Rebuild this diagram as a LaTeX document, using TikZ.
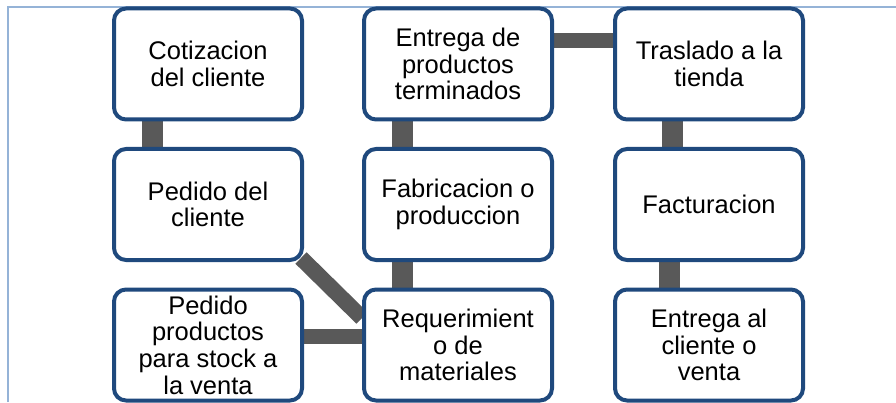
\documentclass[tikz,border=0pt]{standalone}
\usepackage{fontspec}
\setmainfont{Liberation Sans}
\usepackage{xcolor}
\usetikzlibrary{backgrounds}

\definecolor{boxblue}{RGB}{31,73,125}
\definecolor{framblue}{RGB}{149,179,215}
\definecolor{linkgray}{RGB}{89,89,89}

\tikzset{
  stagebox/.style={draw=boxblue, line width=4pt, fill=white, rounded corners=12pt,
    minimum width=188pt, minimum height=111pt, inner sep=0pt, align=center,
    font=\fontsize{25.5}{26.7}\selectfont},
  vlink/.style={draw=linkgray, line width=21pt},
  hlink/.style={draw=linkgray, line width=15pt}
}

\begin{document}
\begin{tikzpicture}[x=1pt, y=1pt]
  \useasboundingbox (0,0) rectangle (896,402);

  % Draw the boxes in three columns
  \node[stagebox] (cotiz)    at (208,338)   {Cotizacion\\del cliente};
  \node[stagebox] (pedido)   at (208,197.5) {Pedido del\\cliente};
  \node[stagebox] (stock)    at (208,57)    {Pedido\\productos\\para stock a\\la venta};
  \node[stagebox] (requer)   at (458,57)    {Requerimient\\o de\\materiales};
  \node[stagebox] (fabric)   at (458,197.5) {Fabricacion o\\produccion};
  \node[stagebox] (entrega)  at (458,338)   {Entrega de\\productos\\terminados};
  \node[stagebox] (traslado) at (709,338)   {Traslado a la\\tienda};
  \node[stagebox] (factura)  at (709,197.5) {Facturacion};
  \node[stagebox] (venta)    at (709,57)    {Entrega al\\cliente o\\venta};

  \begin{scope}[on background layer]
    % Frame lines
    \draw[framblue, line width=1.5pt] (8,0) -- (8,395) -- (896,395);

    % Connectors between the boxes
    \draw[vlink] ([xshift=-56pt]cotiz.south) -- ([xshift=-56pt]pedido.north);
    \draw[draw=linkgray, line width=16pt] ([xshift=-3pt,yshift=4pt]pedido.south east) -- ([yshift=27pt]requer.west);
    \draw[hlink] ([yshift=9pt]stock.east) -- ([yshift=9pt]requer.west);
    \draw[vlink] ([xshift=-56pt]requer.north) -- ([xshift=-56pt]fabric.south);
    \draw[vlink] ([xshift=-56pt]fabric.north) -- ([xshift=-56pt]entrega.south);
    \draw[hlink] ([yshift=23pt]entrega.east) -- ([yshift=23pt]traslado.west);
    \draw[vlink] ([xshift=-37pt]traslado.south) -- ([xshift=-37pt]factura.north);
    \draw[vlink] ([xshift=-40pt]factura.south) -- ([xshift=-40pt]venta.north);
  \end{scope}
\end{tikzpicture}
\end{document}
